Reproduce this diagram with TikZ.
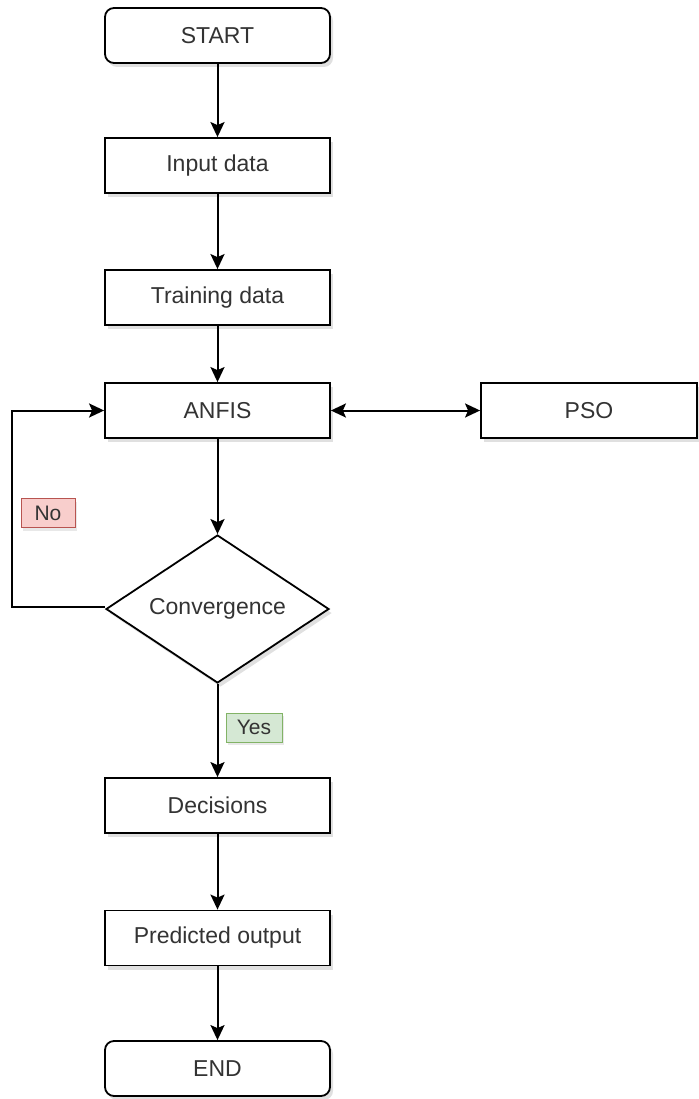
\documentclass[tikz,border=0pt]{standalone}
\usepackage{fontspec}
\setmainfont{Liberation Sans}
\usetikzlibrary{shapes.geometric,arrows.meta,shadows}
\definecolor{txt}{HTML}{333333}
\definecolor{nofill}{HTML}{F8CECC}
\definecolor{nodraw}{HTML}{B85450}
\definecolor{yesfill}{HTML}{D5E8D4}
\definecolor{yesdraw}{HTML}{82B366}
\begin{document}
\begin{tikzpicture}[x=1pt,y=-1pt,
  shad/.style={drop shadow={shadow xshift=3pt,shadow yshift=-4pt,fill=black!35,opacity=0.35}},
  procbox/.style={draw=black,line width=1.8pt,fill=white,minimum width=225pt,minimum height=55pt,text=txt,font=\fontsize{23}{26}\selectfont,inner sep=0pt,shad},
  termbox/.style={procbox,rounded corners=9pt},
  decbox/.style={diamond,draw=black,line width=1.8pt,fill=white,minimum width=223pt,minimum height=148pt,aspect=1.5,inner sep=0pt,text=txt,font=\fontsize{23}{26}\selectfont,shad},
  lab/.style={line width=1pt,inner sep=0pt,minimum height=29pt,text=txt,font=\fontsize{21}{24}\selectfont,drop shadow={shadow xshift=2pt,shadow yshift=-3pt,fill=black!30,opacity=0.3}},
  tip/.tip={Stealth[length=15pt,width=14pt,inset=3pt]},
  conn/.style={line width=2pt,-tip}
]
\useasboundingbox (0,0) rectangle (698,1099);
\node[termbox] (start) at (217.5,35.5) {START};
\node[procbox] (input) at (217.5,165.5) {Input data};
\node[procbox] (train) at (217.5,297.5) {Training data};
\node[procbox] (anfis) at (217.5,410.5) {ANFIS};
\node[procbox,minimum width=216pt] (pso) at (589,410.5) {PSO};
\node[decbox] (conv) at (217.5,609) {Convergence};
\node[procbox] (dec) at (217.5,805.5) {Decisions};
\node[procbox] (pred) at (217.5,938) {Predicted output};
\node[termbox] (end) at (217.5,1068.5) {END};
\coordinate (loopbot) at (12,607);
\coordinate (looptop) at (12,410.5);
\draw[conn] (start) -- (input);
\draw[conn] (input) -- (train);
\draw[conn] (train) -- (anfis);
\draw[line width=2pt,tip-tip] (anfis) -- (pso);
\draw[conn] (anfis) -- (conv);
\draw[conn] (conv.west |- loopbot) -- (loopbot) -- (looptop) -- (anfis.west);
\draw[conn] (conv) -- (dec);
\draw[conn] (dec) -- (pred);
\draw[conn] (pred) -- (end);
\node[lab,draw=nodraw,fill=nofill,minimum width=54pt] (no) at (48,513) {No};
\node[lab,draw=yesdraw,fill=yesfill,minimum width=56pt] (yes) at (254,727.5) {Yes};
\end{tikzpicture}
\end{document}
